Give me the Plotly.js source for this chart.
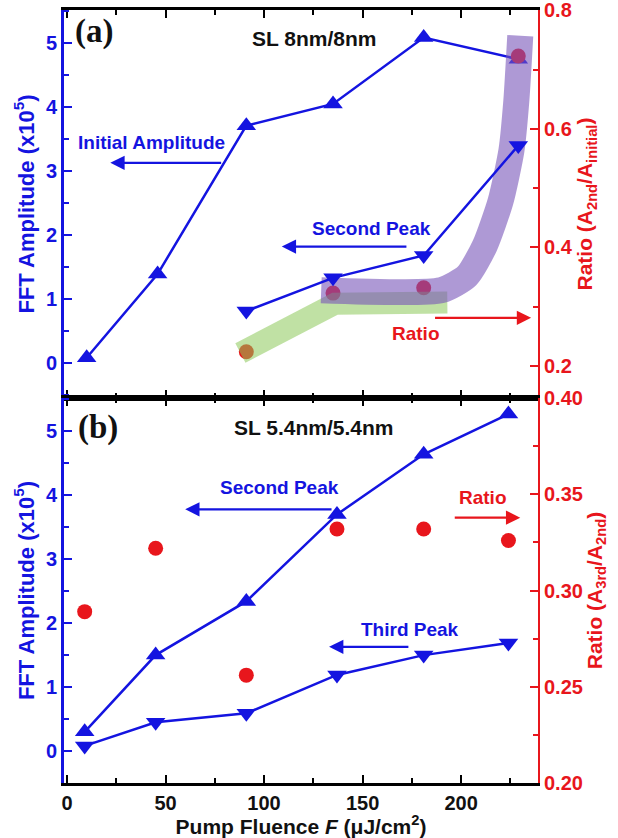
<!DOCTYPE html>
<html>
<head>
<meta charset="utf-8">
<script src="https://cdn.plot.ly/plotly-3.0.1.min.js"></script>
<style>html,body{margin:0;padding:0;background:#fff;}#chart{width:618px;height:838px;}</style>
</head>
<body>
<div id="chart"></div>
<script>
// ---- Panel (a): SL 8nm/8nm ----
const topX = [10, 46, 91, 135, 181, 229];
const initialAmp = [0.08, 1.39, 3.71, 4.05, 5.09, 4.75];
const secondX = [91, 135, 181, 229];
const secondPeakTop = [0.81, 1.33, 1.68, 3.40];
const ratioTopX = [91, 135, 181, 229];
const ratioTop = [0.224, 0.323, 0.332, 0.723];
const ratioTopTicks = [0.2, 0.4, 0.6, 0.8];
// highlight bands (hand-drawn guides)
const greenBandX = [88, 136, 193];
const greenBandY = [0.222, 0.305, 0.307];
const purpleBandX = [129, 190, 203, 212, 220, 225.5, 228, 230];
const purpleBandY = [0.328, 0.328, 0.352, 0.403, 0.478, 0.563, 0.647, 0.757];

// ---- Panel (b): SL 5.4nm/5.4nm ----
const botX = [9, 45, 91, 137, 181, 224];
const secondPeakBot = [0.30, 1.50, 2.34, 3.70, 4.64, 5.27];
const thirdPeakBot = [0.08, 0.45, 0.59, 1.19, 1.50, 1.69];
const ratioBot = [0.289, 0.322, 0.256, 0.332, 0.332, 0.326];

const BLUE = '#1414e0';
const RED = '#e8161c';
const FONT = '"Liberation Sans", Arial, sans-serif';

const traces = [
  {x: topX, y: initialAmp, xaxis: 'x', yaxis: 'y', mode: 'lines+markers',
   line: {color: BLUE, width: 2.5}, marker: {symbol: 'triangle-up', size: 17, color: BLUE}},
  {x: ratioTopX, y: ratioTop, xaxis: 'x', yaxis: 'y2', mode: 'markers',
   marker: {symbol: 'circle', size: 15, color: RED}},
  {x: greenBandX, y: greenBandY, xaxis: 'x', yaxis: 'y2', mode: 'lines',
   line: {color: 'rgba(140,200,90,0.55)', width: 22}},
  {x: purpleBandX, y: purpleBandY, xaxis: 'x', yaxis: 'y2', mode: 'lines',
   line: {color: 'rgba(120,85,185,0.6)', width: 26, shape: 'spline', smoothing: 0.6}},
  {x: secondX, y: secondPeakTop, xaxis: 'x', yaxis: 'y3', mode: 'lines+markers',
   line: {color: BLUE, width: 2.5}, marker: {symbol: 'triangle-down', size: 17, color: BLUE}},

  {x: botX, y: secondPeakBot, xaxis: 'x2', yaxis: 'y4', mode: 'lines+markers',
   line: {color: BLUE, width: 2.5}, marker: {symbol: 'triangle-up', size: 17, color: BLUE}},
  {x: botX, y: thirdPeakBot, xaxis: 'x2', yaxis: 'y4', mode: 'lines+markers',
   line: {color: BLUE, width: 2.5}, marker: {symbol: 'triangle-down', size: 17, color: BLUE}},
  {x: botX, y: ratioBot, xaxis: 'x2', yaxis: 'y5', mode: 'markers',
   marker: {symbol: 'circle', size: 15, color: RED}}
];

const TICK = 20;
const tickFontBlack = {family: FONT, size: TICK, color: '#111', weight: 'bold'};
const tickFontBlue = {family: FONT, size: TICK, color: BLUE, weight: 'bold'};
const tickFontRed = {family: FONT, size: TICK, color: RED, weight: 'bold'};

const xRange = [-1.5, 239];
const xBase = {
  range: xRange, showgrid: false, zeroline: false, ticklabeloverflow: 'allow',
  showline: true, linecolor: '#000', linewidth: 3, mirror: 'ticks',
  ticks: 'inside', ticklen: 8, tickwidth: 2, tickcolor: '#000', dtick: 50, tick0: 0,
  minor: {ticks: 'inside', ticklen: 5, tickwidth: 2, tickcolor: '#000', dtick: 25}
};
function leftY(domain, range, anchor) {
  return {
    domain: domain, range: range, anchor: anchor, showgrid: false, zeroline: false,
    ticklabeloverflow: 'allow',
    showline: true, linecolor: BLUE, linewidth: 3,
    ticks: 'inside', ticklen: 8, tickwidth: 2, tickcolor: BLUE, dtick: 1, tick0: 0,
    minor: {ticks: 'inside', ticklen: 5, tickwidth: 2, tickcolor: BLUE, dtick: 0.5},
    tickfont: tickFontBlue,
    title: {text: 'FFT Amplitude (x10<sup>5</sup>)', font: {family: FONT, size: 22, color: BLUE, weight: 'bold'}, standoff: 6}
  };
}

const layout = {
  width: 618, height: 838,
  margin: {l: 64, r: 80, t: 10, b: 55},
  paper_bgcolor: '#fff', plot_bgcolor: '#fff',
  showlegend: false,
  xaxis: Object.assign({}, xBase, {anchor: 'y', showticklabels: false}),
  yaxis: leftY([0.498, 1], [-0.55, 5.52], 'x'),
  yaxis2: {
    overlaying: 'y', side: 'right', anchor: 'x', range: [0.146, 0.8005],
    showgrid: false, zeroline: false, showline: true, linecolor: RED, linewidth: 2,
    ticklabeloverflow: 'allow',
    ticks: 'inside', ticklen: 8, tickwidth: 2, tickcolor: RED,
    tickmode: 'array', tickvals: ratioTopTicks,
    minor: {ticks: 'inside', ticklen: 5, tickwidth: 2, tickcolor: RED, dtick: 0.1, tick0: 0},
    tickfont: tickFontRed, tickformat: '.1f',
    title: {text: 'Ratio (A<sub>2nd</sub>/A<sub>initial</sub>)', font: {family: FONT, size: 21, color: RED, weight: 'bold'}, standoff: 6}
  },
  yaxis3: {overlaying: 'y', anchor: 'x', range: [-0.55, 5.52], visible: false},
  xaxis2: Object.assign({}, xBase, {
    anchor: 'y4', showticklabels: true, tickfont: tickFontBlack,
    title: {text: 'Pump Fluence <i>F</i> (\u03bcJ/cm<sup>2</sup>)', font: {family: FONT, size: 21, color: '#111', weight: 'bold'}, standoff: 2}
  }),
  yaxis4: leftY([0, 0.498], [-0.5, 5.52], 'x2'),
  yaxis5: {
    overlaying: 'y4', side: 'right', anchor: 'x2', range: [0.1999, 0.4001],
    showgrid: false, zeroline: false, showline: true, linecolor: RED, linewidth: 2,
    ticklabeloverflow: 'allow',
    ticks: 'inside', ticklen: 8, tickwidth: 2, tickcolor: RED, dtick: 0.05, tick0: 0,
    minor: {ticks: 'inside', ticklen: 5, tickwidth: 2, tickcolor: RED, dtick: 0.025},
    tickfont: tickFontRed, tickformat: '.2f',
    title: {text: 'Ratio (A<sub>3rd</sub>/A<sub>2nd</sub>)', font: {family: FONT, size: 21, color: RED, weight: 'bold'}, standoff: 4}
  },
  annotations: []
};

function label(text, x, y, xr, yr, font) {
  return {text: text, x: x, y: y, xref: xr, yref: yr, showarrow: false, font: font};
}
function arrow(hx, hy, tx, ty, xr, yr, color) {
  return {text: '', x: hx, y: hy, ax: tx, ay: ty, xref: xr, yref: yr, axref: xr, ayref: yr,
          showarrow: true, arrowhead: 2, arrowsize: 1.3, arrowwidth: 2.2, arrowcolor: color, standoff: 0, startstandoff: 0};
}
const fBlue = {family: FONT, size: 19, color: BLUE, weight: 'bold'};
const fRed = {family: FONT, size: 19, color: RED, weight: 'bold'};
const fBlack = {family: FONT, size: 21, color: '#111', weight: 'bold'};
const fPanel = {family: '"Liberation Serif", "Times New Roman", serif', size: 33, color: '#111', weight: 'bold'};

layout.annotations.push(
  label('(a)', 13.5, 5.19, 'x', 'y', fPanel),
  label('SL 8nm/8nm', 125.5, 5.08, 'x', 'y', fBlack),
  label('Initial Amplitude', 43, 3.45, 'x', 'y', fBlue),
  arrow(22, 3.13, 79, 3.13, 'x', 'y', BLUE),
  label('Second Peak', 154.5, 2.10, 'x', 'y', fBlue),
  arrow(109, 1.82, 173, 1.82, 'x', 'y', BLUE),
  label('Ratio', 177, 0.455, 'x', 'y', fRed),
  arrow(235.5, 0.705, 186, 0.705, 'x', 'y', RED),

  label('(b)', 16, 5.06, 'x2', 'y4', fPanel),
  label('SL 5.4nm/5.4nm', 125.5, 5.06, 'x2', 'y4', fBlack),
  label('Second Peak', 108, 4.12, 'x2', 'y4', fBlue),
  arrow(60, 3.78, 135, 3.78, 'x2', 'y4', BLUE),
  label('Ratio', 211, 3.97, 'x2', 'y4', fRed),
  arrow(230, 3.65, 196, 3.65, 'x2', 'y4', RED),
  label('Third Peak', 174, 1.90, 'x2', 'y4', fBlue),
  arrow(133, 1.63, 174, 1.63, 'x2', 'y4', BLUE)
);

Plotly.newPlot('chart', traces, layout, {displayModeBar: false, staticPlot: true});
</script>
</body>
</html>
